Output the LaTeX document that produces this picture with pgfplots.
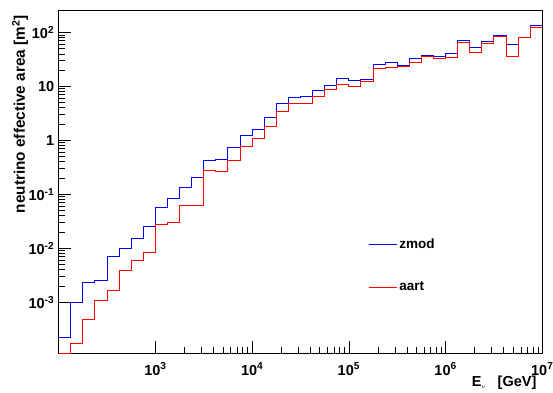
\documentclass[border=0pt]{standalone}
\usepackage{pgfplots}
\pgfplotsset{compat=1.18}
\usepackage{pgfplotstable}
\usepackage{fontspec}
\setmainfont{Liberation Sans}

\pgfplotstableread{
x zmod aart
100 2.25e-4 1.13e-4
133.35 1.0e-3 1.74e-4
177.83 2.35e-3 4.8e-4
237.14 2.5e-3 1.09e-3
316.23 6.9e-3 1.62e-3
421.70 9.8e-3 3.8e-3
562.34 1.49e-2 5.9e-3
749.89 2.5e-2 8.3e-3
1000 5.6e-2 2.8e-2
1333.5 8.4e-2 2.95e-2
1778.3 0.131 6.3e-2
2371.4 0.203 6.1e-2
3162.3 0.43 0.278
4217.0 0.445 0.259
5623.4 0.75 0.427
7498.9 1.21 0.78
10000 1.6 1.1
13335 2.67 1.79
17783 4.85 3.39
23714 6.25 4.9
31623 6.4 4.9
42170 8.4 6.6
56234 10.3 8.8
74989 14.1 11.0
100000 12.9 10.1
133350 13.6 12.5
177830 25.1 21.2
237140 27.8 22.8
316230 24.5 23.4
421700 32.2 27.8
562340 36.9 35.3
749890 35.3 33
1000000 40.2 34.4
1333500 71.9 66
1778300 52.7 42.6
2371400 67 63.4
3162300 86.5 83
4217000 60.7 36.4
5623400 79.4 79.4
7498900 135 124
10000000 135 124
}\data

\begin{document}
\begin{tikzpicture}
\useasboundingbox (-58.7pt,-38.7pt) rectangle (494.3pt,353.3pt);
\begin{axis}[
  at={(0,0)}, anchor=south west,
  scale only axis, width=483.6pt, height=343.3pt,
  xmode=log, ymode=log,
  xmin=100, xmax=1e7, ymin=1.13e-4, ymax=260,
  axis line style={line width=0.9pt},
  tick align=inside,
  xtick pos=bottom, ytick pos=left,
  major tick length=12.5pt, minor tick length=6.5pt,
  every tick/.style={black, line width=0.7pt},
  xtick={1e3,1e4,1e5,1e6,1e7},
  xticklabels={\textbf{10\textsuperscript{3}},\textbf{10\textsuperscript{4}},\textbf{10\textsuperscript{5}},\textbf{10\textsuperscript{6}},\textbf{10\textsuperscript{7}}},
  ytick={1e-3,1e-2,1e-1,1,10,100},
  yticklabels={\textbf{10\textsuperscript{-3}},\textbf{10\textsuperscript{-2}},\textbf{10\textsuperscript{-1}},\textbf{1},\textbf{10},\textbf{10\textsuperscript{2}}},
  ticklabel style={font=\fontsize{14.5}{16}\selectfont},
  xticklabel style={yshift=-6pt},
  yticklabel style={xshift=-1pt},
  xlabel={\textbf{E}\raisebox{-2pt}{\fontsize{6}{7}\selectfont$\nu$}\hspace{12pt}\textbf{[GeV]}},
  xlabel style={at={(axis description cs:0.995,-0.0865)}, anchor=east, font=\fontsize{14.5}{16}\selectfont},
  ylabel={\textbf{neutrino effective area [m\textsuperscript{2}]}},
  ylabel style={at={(axis description cs:-0.08,0.995)}, anchor=east, font=\fontsize{15.3}{17}\selectfont},
  legend style={draw=none, fill=none, at={(axis description cs:0.64,0.34)}, anchor=north west,
    font=\fontsize{13.5}{15}\selectfont\bfseries, row sep=28pt, inner sep=0pt},
  legend cell align=left,
  legend image code/.code={\draw[#1, line width=1pt] (0pt,0pt) -- (28pt,0pt);},
]
\addplot[blue, line width=1pt, const plot] table[x=x, y=zmod] {\data};
\addlegendentry{zmod}
\addplot[red, line width=1pt, const plot] table[x=x, y=aart] {\data};
\addlegendentry{aart}
\end{axis}
\end{tikzpicture}
\end{document}
